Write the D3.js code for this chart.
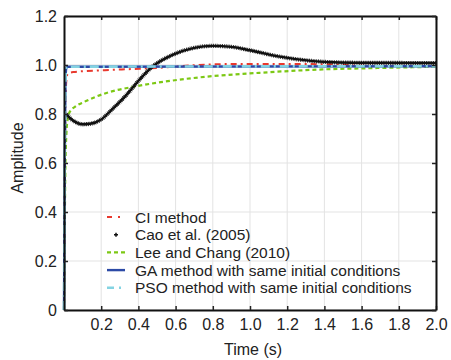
<!DOCTYPE html>
<html>
<head>
<meta charset="utf-8">
<script src="https://cdn.jsdelivr.net/npm/d3@7"></script>
<style>
  body { margin: 0; background: #fff; }
  text { font-family: "Liberation Sans", Arial, sans-serif; }
</style>
</head>
<body>
<div id="chart"></div>
<script>
// step responses: [time (s), amplitude]
const ciMethod = [[0, 0], [0.006, 0.7], [0.012, 0.93], [0.02, 0.965], [0.05, 0.971], [0.22, 0.979],
  [0.38, 0.984], [0.54, 0.99], [0.7, 0.999], [0.9, 1.004], [1.2, 1.004], [1.42, 1.003], [1.6, 0.997], [2.0, 0.995]];
const caoEtAl = [[0.012, 0.80], [0.03, 0.785], [0.06, 0.768], [0.1, 0.758], [0.14, 0.76], [0.2, 0.778],
  [0.26, 0.82], [0.33, 0.873], [0.42, 0.952], [0.47, 0.99], [0.58, 1.04], [0.7, 1.07], [0.8, 1.078],
  [0.9, 1.074], [1.0, 1.06], [1.16, 1.034], [1.34, 1.016], [1.45, 1.011], [1.6, 1.009], [2.0, 1.008]];
const leeChang = [[0, 0], [0.004, 0.35], [0.008, 0.6], [0.013, 0.72], [0.02, 0.78], [0.032, 0.81],
  [0.06, 0.83], [0.11, 0.85], [0.22, 0.884], [0.38, 0.912], [0.54, 0.932], [0.76, 0.952],
  [1.05, 0.968], [1.39, 0.982], [1.65, 0.987], [2.0, 0.993]];
const gaMethod = [[0, 0], [0.004, 0.6], [0.008, 0.93], [0.012, 0.985], [0.02, 0.993], [2.0, 0.995]];
const psoMethod = [[0, 0], [0.004, 0.62], [0.008, 0.935], [0.012, 0.986], [0.02, 0.993], [2.0, 0.995]];

const xTicks = [0.2, 0.4, 0.6, 0.8, 1.0, 1.2, 1.4, 1.6, 1.8, 2.0];
const yTicks = [0, 0.2, 0.4, 0.6, 0.8, 1.0, 1.2];
const legendLabels = ['CI method', 'Cao et al. (2005)', 'Lee and Chang (2010)',
  'GA method with same initial conditions', 'PSO method with same initial conditions'];

const margin = { top: 16, right: 15, bottom: 50, left: 64 };
const width = 451 - margin.left - margin.right;
const height = 360 - margin.top - margin.bottom;

const svg = d3.select('#chart')
  .append('svg')
  .attr('width', 451)
  .attr('height', 360)
  .append('g')
  .attr('transform', 'translate(' + margin.left + ',' + margin.top + ')');

const x = d3.scaleLinear().domain([0, 2]).range([0, width]);
const y = d3.scaleLinear().domain([0, 1.2]).range([height, 0]);

// grid
svg.append('g')
  .selectAll('line')
  .data(xTicks)
  .join('line')
  .attr('x1', d => x(d)).attr('x2', d => x(d))
  .attr('y1', 0).attr('y2', height)
  .attr('stroke', '#e3e3e3');
svg.append('g')
  .selectAll('line')
  .data(yTicks)
  .join('line')
  .attr('x1', 0).attr('x2', width)
  .attr('y1', d => y(d)).attr('y2', d => y(d))
  .attr('stroke', '#e3e3e3');

const line = d3.line()
  .curve(d3.curveMonotoneX)
  .x(d => x(d[0]))
  .y(d => y(d[1]));

const plot = svg.append('g');

plot.append('path')
  .datum(ciMethod)
  .attr('fill', 'none')
  .attr('stroke', '#e8392e')
  .attr('stroke-width', 2)
  .attr('stroke-dasharray', '6 4 2 4')
  .attr('d', line);

plot.append('path')
  .datum(leeChang)
  .attr('fill', 'none')
  .attr('stroke', '#7cc814')
  .attr('stroke-width', 2.2)
  .attr('stroke-dasharray', '4 3')
  .attr('d', line);

// Cao et al. drawn with dense markers -> thick hatched line
plot.append('path')
  .datum(caoEtAl)
  .attr('fill', 'none')
  .attr('stroke', '#111')
  .attr('stroke-width', 2.4)
  .attr('d', line);
plot.append('path')
  .datum(caoEtAl)
  .attr('fill', 'none')
  .attr('stroke', '#111')
  .attr('stroke-width', 4.2)
  .attr('stroke-dasharray', '0.8 1')
  .attr('d', line);

plot.append('path')
  .datum(gaMethod)
  .attr('fill', 'none')
  .attr('stroke', '#2c4aa6')
  .attr('stroke-width', 2.4)
  .attr('d', line);

plot.append('path')
  .datum(psoMethod)
  .attr('fill', 'none')
  .attr('stroke', '#84d3e2')
  .attr('stroke-width', 2.6)
  .attr('stroke-dasharray', '9 4 2 4')
  .attr('d', line);

// axes (boxed, ticks pointing inward)
svg.append('g')
  .attr('class', 'axis')
  .attr('transform', 'translate(0,' + height + ')')
  .call(d3.axisBottom(x).tickValues(xTicks).tickFormat(d3.format('.1f'))
    .tickSizeInner(-4).tickSizeOuter(0).tickPadding(9));
svg.append('g')
  .attr('class', 'axis')
  .call(d3.axisTop(x).tickValues(xTicks).tickFormat('')
    .tickSizeInner(-4).tickSizeOuter(0));
svg.append('g')
  .attr('class', 'axis')
  .call(d3.axisLeft(y).tickValues(yTicks)
    .tickFormat(d => d === 0 ? '0' : d3.format('.1f')(d))
    .tickSizeInner(-4).tickSizeOuter(0).tickPadding(7));
svg.append('g')
  .attr('class', 'axis')
  .attr('transform', 'translate(' + width + ',0)')
  .call(d3.axisRight(y).tickValues(yTicks).tickFormat('')
    .tickSizeInner(-4).tickSizeOuter(0));

svg.selectAll('.axis path')
  .attr('stroke', '#111')
  .attr('stroke-width', 2);
svg.selectAll('.axis line')
  .attr('stroke', '#222')
  .attr('stroke-width', 1.5);
svg.selectAll('.axis text')
  .attr('fill', '#222')
  .style('font-size', '16px')
  .style('font-family', '"Liberation Sans", Arial, sans-serif');

svg.append('text')
  .attr('x', width / 2 + 3)
  .attr('y', height + 45)
  .attr('text-anchor', 'middle')
  .attr('fill', '#222')
  .style('font-size', '16px')
  .text('Time (s)');

svg.append('text')
  .attr('transform', 'rotate(-90)')
  .attr('x', -height / 2 + 5)
  .attr('y', -41)
  .attr('text-anchor', 'middle')
  .attr('fill', '#222')
  .style('font-size', '16px')
  .text('Amplitude');

// legend
const legend = svg.append('g')
  .attr('transform', 'translate(43,201)');
const rowH = 17.7;
const legendStyles = [
  { stroke: '#e8392e', dash: '5 6 2 6', width: 2 },
  null,
  { stroke: '#7cc814', dash: '4 3', width: 2.2 },
  { stroke: '#2c4aa6', dash: null, width: 2.4 },
  { stroke: '#84d3e2', dash: '7 5 2 5', width: 2.6 }
];
legendLabels.forEach((label, i) => {
  const row = legend.append('g').attr('transform', 'translate(0,' + i * rowH + ')');
  const s = legendStyles[i];
  if (s) {
    row.append('line')
      .attr('x1', 0).attr('x2', 18)
      .attr('y1', 0).attr('y2', 0)
      .attr('stroke', s.stroke)
      .attr('stroke-width', s.width)
      .attr('stroke-dasharray', s.dash);
  } else {
    row.append('path')
      .attr('d', 'M7,0H11M9,-2V2')
      .attr('stroke', '#111')
      .attr('stroke-width', 1.5);
  }
  row.append('text')
    .attr('x', 28)
    .attr('y', 5.5)
    .attr('fill', '#222')
    .style('font-size', '15.5px')
    .text(label);
});
</script>
</body>
</html>
